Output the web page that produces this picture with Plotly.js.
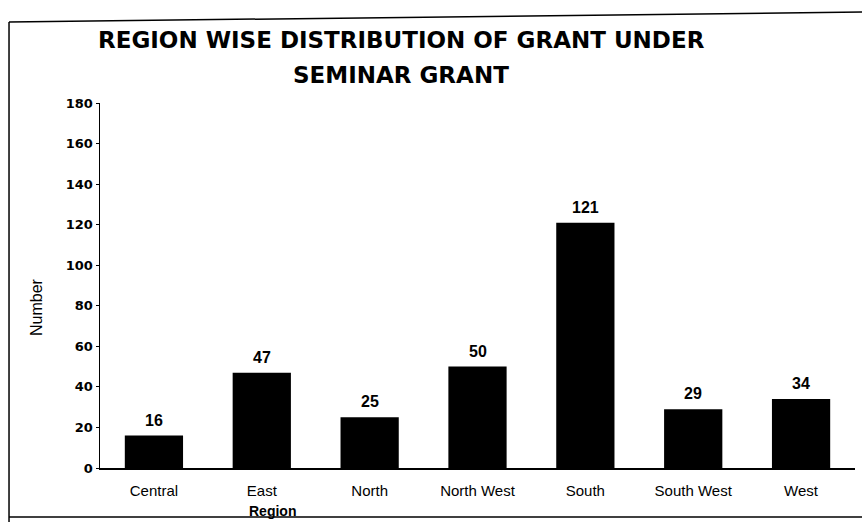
<!DOCTYPE html>
<html>
<head>
<meta charset="utf-8">
<script src="https://cdn.plot.ly/plotly-3.0.1.min.js"></script>
<style>html,body{margin:0;padding:0;background:#fff;}#chart{width:863px;height:522px;}</style>
</head>
<body>
<div id="chart"></div>
<script>
const regions = ["Central", "East", "North", "North West", "South", "South West", "West"];
const grants = [16, 47, 25, 50, 121, 29, 34];
const labels = grants.map(String);
const titleLines = ["REGION WISE DISTRIBUTION OF GRANT UNDER", "SEMINAR GRANT"];

const trace = {
  type: "bar",
  x: regions,
  y: grants,
  marker: {color: "#000", line: {width: 0}},
  width: 0.54,
  hoverinfo: "x+y"
};

const valueAnnotations = regions.map((r, i) => ({
  x: r, y: grants[i], xref: "x", yref: "y",
  text: labels[i],
  showarrow: false,
  yanchor: "bottom", yshift: 5,
  font: {family: "Liberation Sans, Arial, sans-serif", size: 16, color: "#000", weight: "bold"}
}));

const titleFont = {family: "DejaVu Sans, sans-serif", size: 23, color: "#000", weight: "bold"};

const layout = {
  width: 863,
  height: 522,
  paper_bgcolor: "#fff",
  plot_bgcolor: "#fff",
  margin: {l: 100, r: 8, t: 103, b: 54},
  font: {family: "Liberation Sans, Arial, sans-serif", color: "#000"},
  showlegend: false,
  xaxis: {
    type: "category",
    showline: true, linecolor: "#000", linewidth: 1.5,
    ticks: "", showgrid: false,
    tickfont: {family: "Liberation Sans, Arial, sans-serif", size: 15, color: "#000"},
    ticklabelstandoff: 8,
    automargin: false
  },
  yaxis: {
    range: [0, 180],
    dtick: 20,
    showline: true, linecolor: "#000", linewidth: 1.5,
    ticks: "outside", ticklen: 3, tickcolor: "#000",
    showgrid: false, zeroline: false,
    tickfont: {family: "DejaVu Sans, sans-serif", size: 13, color: "#000", weight: "bold"},
    automargin: false
  },
  annotations: valueAnnotations.concat([
    {
      text: titleLines[0], xref: "paper", yref: "paper",
      x: 0.3987, y: 1.1726, xanchor: "center", yanchor: "middle",
      showarrow: false, font: titleFont
    },
    {
      text: titleLines[1], xref: "paper", yref: "paper",
      x: 0.3987, y: 1.0767, xanchor: "center", yanchor: "middle",
      showarrow: false, font: titleFont
    },
    {
      text: "Number", xref: "paper", yref: "paper",
      x: -0.0848, y: 0.441, xanchor: "center", yanchor: "middle",
      textangle: -90, showarrow: false,
      font: {family: "Liberation Sans, Arial, sans-serif", size: 16, color: "#000"}
    },
    {
      text: "<b>Region</b>", xref: "paper", yref: "paper",
      x: 0.229, y: -0.118, xanchor: "center", yanchor: "middle",
      showarrow: false,
      font: {family: "Liberation Sans, Arial, sans-serif", size: 14, color: "#000"}
    }
  ]),
  shapes: [
    {type: "line", xref: "paper", yref: "paper", x0: -0.1205, x1: -0.1205, y0: 1.2219, y1: -0.148,
     line: {color: "#000", width: 1.5}},
    {type: "line", xref: "paper", yref: "paper", x0: -0.1205, x1: 1.0093, y0: 1.2219, y1: 1.2493,
     line: {color: "#000", width: 1.5}},
    {type: "line", xref: "paper", yref: "paper", x0: -0.1205, x1: 1.0093, y0: -0.1342, y1: -0.1342,
     line: {color: "#000", width: 1.5}}
  ]
};

Plotly.newPlot("chart", [trace], layout, {displayModeBar: false, staticPlot: true});
</script>
</body>
</html>
